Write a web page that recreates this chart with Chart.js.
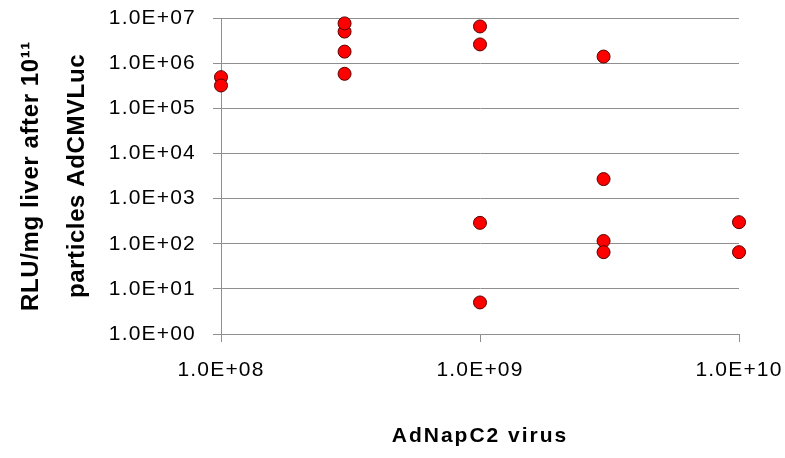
<!DOCTYPE html>
<html>
<head>
<meta charset="utf-8">
<script src="https://cdn.jsdelivr.net/npm/chart.js@4/dist/chart.umd.min.js"></script>
<style>
  html, body { margin: 0; padding: 0; background: #ffffff; }
  #c { display: block; }
</style>
</head>
<body>
<canvas id="c" width="785" height="458"></canvas>
<script>
// ---- data ----
const doses = [1e8, 1e8, 3e8, 3e8, 3e8, 3e8, 1e9, 1e9, 1e9, 1e9, 3e9, 3e9, 3e9, 3e9, 1e10, 1e10];
const rlu   = [4.9e5, 3.2e5, 5.0e6, 7.6e6, 1.8e6, 5.8e5, 6.5e6, 2.6e6, 2.9e2, 5, 1.4e6, 2.7e3, 1.15e2, 65, 3.0e2, 65];

const xTickValues = [1e8, 1e9, 1e10];
const xTickLabels = ['1.0E+08', '1.0E+09', '1.0E+10'];
const yTickValues = [1, 10, 100, 1e3, 1e4, 1e5, 1e6, 1e7];
const yTickLabels = ['1.0E+00', '1.0E+01', '1.0E+02', '1.0E+03', '1.0E+04', '1.0E+05', '1.0E+06', '1.0E+07'];

const xTitle = 'AdNapC2 virus';
const yTitle = ['RLU/mg liver after 10\u00B9\u00B9', 'particles AdCMVLuc'];

// ---- chart ----
const points = doses.map((d, i) => ({ x: d, y: rlu[i] }));
const FONT = '"Liberation Sans", Arial, sans-serif';
const GRID = '#8f8f8f';

const spacing = { x: { ticks: 1.2, title: 2 }, y: { ticks: 1.2, title: 0.6 } };
const letterSpacingPlugin = {
  id: 'letterSpacing',
  beforeDraw(chart) {
    Object.values(chart.scales).forEach(s => {
      if (s._lsPatched) return;
      s._lsPatched = true;
      const sp = spacing[s.id] || { ticks: 0, title: 0 };
      const dl = s.drawLabels.bind(s);
      const dt = s.drawTitle.bind(s);
      s.drawLabels = function (a) {
        const c = this.ctx, o = c.letterSpacing;
        c.letterSpacing = sp.ticks + 'px'; dl(a); c.letterSpacing = o;
      };
      s.drawTitle = function (a) {
        const c = this.ctx, o = c.letterSpacing;
        c.letterSpacing = sp.title + 'px'; dt(a); c.letterSpacing = o;
      };
    });
  }
};

new Chart(document.getElementById('c'), {
  type: 'scatter',
  data: {
    datasets: [{
      data: points,
      backgroundColor: '#ff0000',
      borderColor: '#5a0000',
      borderWidth: 1,
      pointRadius: 6.5,
      pointHoverRadius: 6.5,
      clip: false
    }]
  },
  options: {
    responsive: false,
    animation: false,
    events: [],
    layout: { padding: { top: 18, right: 46, left: 0, bottom: 0 } },
    plugins: { legend: { display: false }, tooltip: { enabled: false } },
    scales: {
      x: {
        type: 'logarithmic',
        min: 1e8, max: 1e10,
        afterBuildTicks: s => { s.ticks = xTickValues.map(v => ({ value: v })); },
        afterFit: s => { s.height = 124; s.paddingLeft = 0; s.paddingRight = 0; },
        grid: { display: true, drawOnChartArea: false, drawTicks: true, tickLength: 8, color: GRID, lineWidth: 1 },
        border: { display: true, color: GRID, width: 1 },
        ticks: {
          autoSkip: false, maxRotation: 0, minRotation: 0,
          padding: 16,
          color: '#000000',
          font: { family: FONT, size: 21 },
          callback: v => { const i = xTickValues.indexOf(v); return i >= 0 ? xTickLabels[i] : ''; }
        },
        title: {
          display: true, text: xTitle, color: '#000000',
          font: { family: FONT, size: 21, weight: 'bold', lineHeight: 1.2 },
          padding: { top: 0, bottom: 9 }
        }
      },
      y: {
        type: 'logarithmic',
        min: 1, max: 1e7,
        afterBuildTicks: s => { s.ticks = yTickValues.map(v => ({ value: v })); },
        afterFit: s => { s.width = 221; s.paddingTop = 0; s.paddingBottom = 0; },
        grid: { display: true, drawOnChartArea: true, drawTicks: true, tickLength: 8, color: GRID, lineWidth: 1 },
        border: { display: true, color: GRID, width: 1 },
        ticks: {
          autoSkip: false,
          padding: 17,
          color: '#000000',
          font: { family: FONT, size: 21 },
          callback: v => { const i = yTickValues.indexOf(v); return i >= 0 ? yTickLabels[i] : ''; }
        },
        title: {
          display: true, text: yTitle, color: '#000000',
          font: { family: FONT, size: 24, weight: 'bold', lineHeight: 1.92 },
          padding: { top: 8, bottom: 0 }
        }
      }
    }
  },
  plugins: [letterSpacingPlugin]
});
</script>
</body>
</html>
